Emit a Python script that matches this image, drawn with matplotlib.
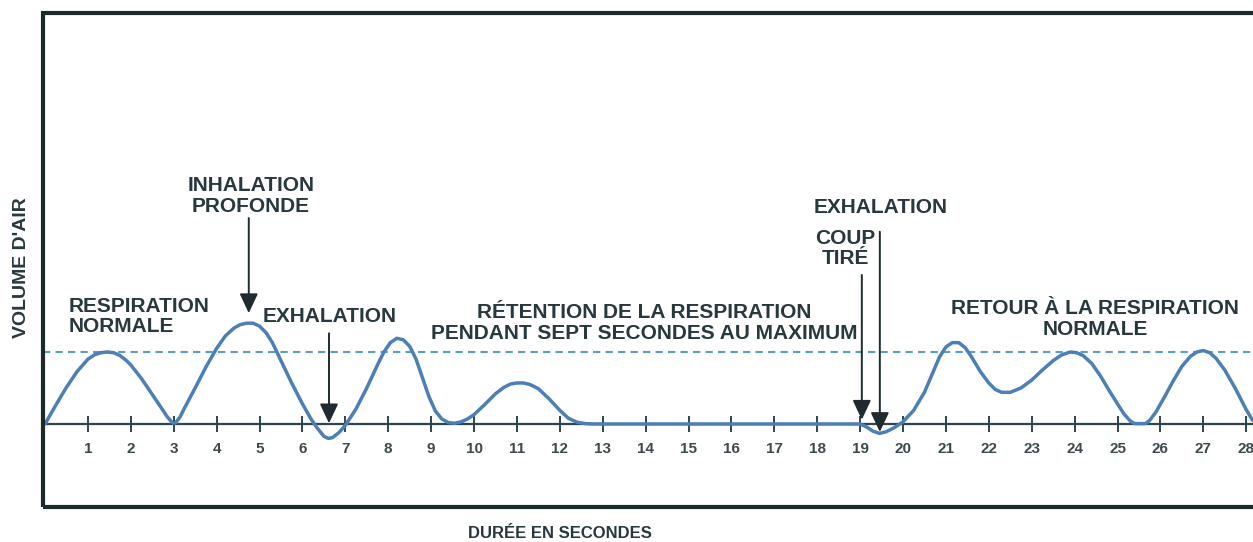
import matplotlib
matplotlib.use("Agg")
import matplotlib.pyplot as plt
from matplotlib.patches import Rectangle

# ---------------- data ----------------
time_s = [0.0, 0.25, 0.5, 0.75, 1.0, 1.15, 1.3, 1.45, 1.6, 1.75, 1.9, 2.0, 2.25, 2.5,
          2.75, 2.85, 2.95, 3.0, 3.05, 3.15, 3.25, 3.5, 3.75, 4.0, 4.2, 4.4, 4.55, 4.7,
          4.85, 5.0, 5.15, 5.3, 5.5, 5.75, 6.0, 6.2, 6.35, 6.5, 6.6, 6.7, 6.85, 7.0,
          7.25, 7.5, 7.75, 7.9, 8.05, 8.2, 8.35, 8.5, 8.65, 8.8, 8.95, 9.1, 9.25, 9.4,
          9.55, 9.7, 9.85, 10.0, 10.25, 10.5, 10.7, 10.85, 11.0, 11.15, 11.3, 11.5,
          11.75, 12.0, 12.2, 12.4, 12.6, 12.8, 19.0, 19.15, 19.3, 19.45, 19.6, 19.8,
          20.0, 20.25, 20.5, 20.7, 20.85, 21.0, 21.15, 21.3, 21.45, 21.6, 21.8, 22.0,
          22.15, 22.3, 22.5, 22.75, 23.0, 23.25, 23.5, 23.7, 23.9, 24.05, 24.2, 24.4,
          24.6, 24.8, 25.0, 25.15, 25.3, 25.4, 25.65, 25.75, 25.9, 26.1, 26.3, 26.5,
          26.7, 26.85, 27.0, 27.15, 27.3, 27.5, 27.75, 28.0, 28.15]
air_volume = [0.0, 0.26, 0.51, 0.73, 0.90, 0.96, 0.99, 1.0, 0.99, 0.95, 0.88, 0.82, 0.63, 0.41,
              0.19, 0.10, 0.03, 0.01, 0.02, 0.10, 0.22, 0.50, 0.79, 1.05, 1.22, 1.33, 1.38, 1.40,
              1.40, 1.36, 1.27, 1.13, 0.88, 0.57, 0.28, 0.07, -0.06, -0.17, -0.20, -0.19, -0.12, -0.02,
              0.21, 0.50, 0.82, 1.00, 1.13, 1.19, 1.17, 1.08, 0.90, 0.64, 0.38, 0.18, 0.07, 0.02,
              0.01, 0.03, 0.07, 0.13, 0.27, 0.42, 0.51, 0.555, 0.57, 0.57, 0.55, 0.49,
              0.35, 0.19, 0.08, 0.025, 0.005, 0.0, 0.0, -0.04, -0.10, -0.13, -0.11, -0.05,
              0.03, 0.19, 0.44, 0.72, 0.93, 1.07, 1.13, 1.13, 1.06, 0.93, 0.73, 0.57,
              0.48, 0.44, 0.44, 0.50, 0.61, 0.75, 0.88, 0.96, 1.0, 0.99, 0.95, 0.84,
              0.67, 0.47, 0.28, 0.14, 0.04, 0.005, 0.005, 0.05, 0.17, 0.38, 0.60, 0.80,
              0.94, 1.0, 1.02, 0.99, 0.91, 0.75, 0.49, 0.20, 0.05]
normal_level = 1.0
tick_seconds = list(range(1, 29))
tick_labels = [str(s) for s in tick_seconds]

labels = [
    ("RESPIRATION\nNORMALE", 0.54, 1.49, "left"),
    ("INHALATION\nPROFONDE", 4.80, 3.17, "center"),
    ("EXHALATION", 6.64, 1.49, "center"),
    ("RÉTENTION DE LA RESPIRATION\nPENDANT SEPT SECONDES AU MAXIMUM", 13.96, 1.40, "center"),
    ("EXHALATION", 19.49, 3.00, "center"),
    ("COUP\nTIRÉ", 18.65, 2.44, "center"),
    ("RETOUR À LA RESPIRATION\nNORMALE", 24.48, 1.46, "center"),
]
# arrows: (x, y_start, y_tip)
arrows = [
    (4.75, 2.86, 1.54),
    (6.62, 1.26, 0.01),
    (19.04, 2.07, 0.06),
    (19.46, 2.67, -0.11),
]

# ---------------- figure ----------------
W, H = 1253, 542
fig = plt.figure(figsize=(W / 100, H / 100), dpi=100)
fig.patch.set_facecolor("white")

px0, pxs = 45.0, 42.9      # pixel of t=0, px per second
py0, pys = 424.0, 72.0     # pixel of v=0, px per unit
ax_l, ax_r, ax_t, ax_b = 43, 1270, 13, 507
ax = fig.add_axes([ax_l / W, (H - ax_b) / H, (ax_r - ax_l) / W, (ax_b - ax_t) / H])
ax.set_xlim((ax_l - px0) / pxs, (ax_r - px0) / pxs)
ax.set_ylim(-(ax_b - py0) / pys, (py0 - ax_t) / pys)
ax.set_facecolor("white")

txt_col = "#27383e"
frame_col = "#1d2a2c"
base_col = "#2b4650"
curve_col = "#4c7fb6"
dash_col = "#5b9dcc"

# frame
ax.add_patch(Rectangle((0, 0), 1, 1, transform=ax.transAxes, fill=False,
                       lw=3.0, ec=frame_col, clip_on=False, zorder=10))

for s in ["left", "right", "top"]:
    ax.spines[s].set_visible(False)
ax.spines["bottom"].set_position(("data", 0))
ax.spines["bottom"].set_color(base_col)
ax.spines["bottom"].set_linewidth(1.6)
ax.spines["bottom"].set_zorder(2)
ax.set_xticks(tick_seconds)
ax.set_xticklabels(tick_labels)
ax.tick_params(axis="x", direction="inout", length=12, width=1.4, color=base_col,
               pad=7, labelsize=11, labelcolor="#3b4a4d")
for t in ax.get_xticklabels():
    t.set_fontweight("bold")
    t.set_family("Liberation Sans")
ax.set_yticks([])

# normal level dashed line
ax.axhline(normal_level, xmin=0.0, xmax=1.0, color=dash_col, lw=1.5,
           ls=(0, (3.5, 2.5)), zorder=3)

# curve
ax.plot(time_s, air_volume, color=curve_col, lw=2.5, zorder=4,
        solid_joinstyle="round", solid_capstyle="round")

# annotations
for text, x, y, ha in labels:
    ax.text(x, y, text, ha=ha, va="center", fontsize=15, fontweight="bold",
            family="Liberation Sans", color=txt_col, linespacing=1.1, zorder=6)

for x, y0, y1 in arrows:
    ax.annotate("", xy=(x, y1), xytext=(x, y0),
                arrowprops=dict(arrowstyle="-|>,head_width=0.4,head_length=0.85",
                                mutation_scale=14, color="#1f2b2e", lw=1.4,
                                shrinkA=0, shrinkB=0), zorder=7)

fig.text(560 / W, 1 - 534 / H, "DURÉE EN SECONDES", ha="center", va="center",
         fontsize=12, fontweight="bold", family="Liberation Sans", color=txt_col)
fig.text(22 / W, 1 - 268 / H, "VOLUME D'AIR", ha="center", va="center", rotation=90,
         fontsize=14, fontweight="bold", family="Liberation Sans", color=txt_col)

fig.savefig("out.png", dpi=100, facecolor="white")
